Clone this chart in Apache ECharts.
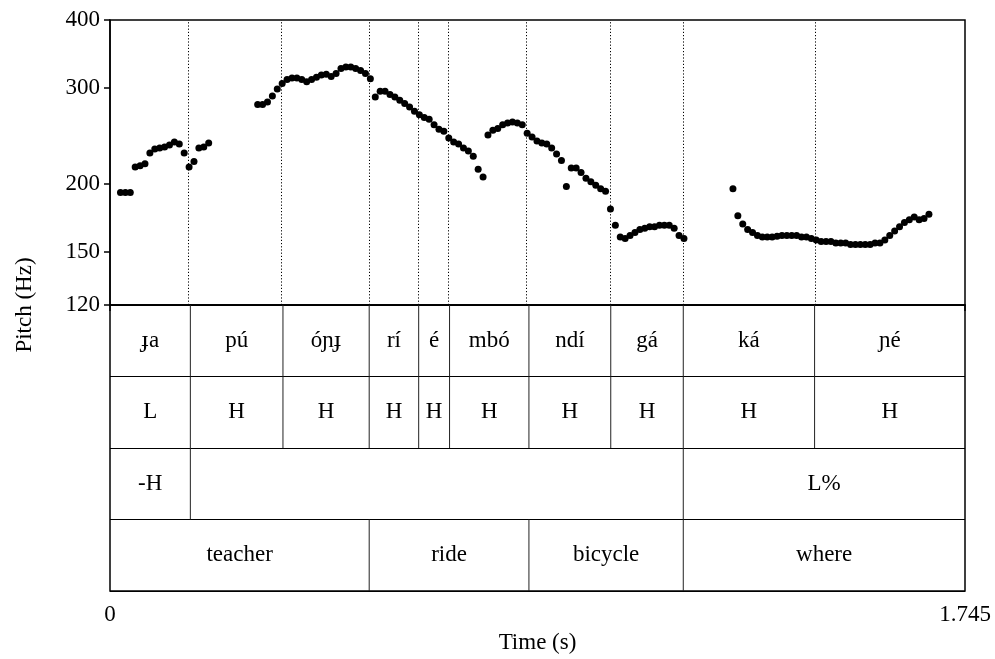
<!DOCTYPE html>
<html>
<head>
<meta charset="utf-8">
<script src="https://cdn.jsdelivr.net/npm/echarts@6/dist/echarts.min.js"></script>
<style>
  html, body { margin: 0; padding: 0; background: #fff; }
  #chart { width: 995px; height: 659px; }
</style>
</head>
<body>
<div id="chart"></div>
<script>
// Pitch track sampled on a fixed frame grid (time of first frame, frame step, seconds)
const pitchStartTime = 0.0214;
const pitchTimeStep = 0.01;
// F0 per frame in Hz; null marks unvoiced frames
const pitchHz = [
  193, 193, 193, 215, 216, 218, 228, 232, 233, 234, 236, 239, 237, 228, 215, 220, 233, 234, 238,
  null, null, null, null, null, null, null, null, null,
  280, 280, 283, 290, 299, 306, 311, 313, 313, 311, 308, 311, 314, 317, 318, 315, 319, 326, 328, 328, 326, 323, 319, 312,
  289, 296, 296, 292, 289, 285, 281, 277, 272, 268, 265, 263, 257, 252, 250, 243, 239, 237, 233, 230, 225, 213, 206,
  246, 251, 253, 257, 259, 260, 259, 257, 248, 244, 240, 238, 237, 233, 227, 221, 198, 214, 214, 210, 205, 202, 199, 196, 194,
  180, 168, 160, 159, 161, 163, 165, 166, 167, 167, 168, 168, 168, 166, 161, 159,
  null, null, null, null, null, null, null, null, null,
  196, 175, 169, 165, 163, 161, 160, 160, 160, 160.5, 161, 161, 161, 161, 160, 160, 159, 158, 157, 157, 157,
  156, 156, 156, 155, 155, 155, 155, 155, 156, 156, 158, 161, 164, 167, 170, 172, 174, 172, 173, 176
];

// Axis ticks
const pitchTicksHz = [120, 150, 200, 300, 400];
const timeRange = [0, 1.745];

// TextGrid tiers: interval boundaries (s) and labels
const syllableBounds = [0, 0.164, 0.353, 0.529, 0.630, 0.693, 0.855, 1.022, 1.170, 1.438, 1.745];
const syllables = ['ɟa', 'pú', 'óɲɟ', 'rí', 'é', 'mbó', 'ndí', 'gá', 'ká', 'ɲé'];
const tones = ['L', 'H', 'H', 'H', 'H', 'H', 'H', 'H', 'H', 'H'];
const phraseBounds = [0, 0.164, 1.170, 1.745];
const phraseTones = ['-H', '', 'L%'];
const wordBounds = [0, 0.529, 0.855, 1.170, 1.745];
const words = ['teacher', 'ride', 'bicycle', 'where'];

const SERIF = '"Liberation Serif", "DejaVu Serif", "Times New Roman", serif';

// Voiced frames as [time, Hz] points
const pitchPoints = [];
pitchHz.forEach((hz, i) => {
  if (hz !== null) pitchPoints.push([pitchStartTime + i * pitchTimeStep, hz]);
});

// Intervals of all four tiers: [start, end, tierIndex] plus the label text
const tierRows = [
  [syllableBounds, syllables],
  [syllableBounds, tones],
  [phraseBounds, phraseTones],
  [wordBounds, words]
];
const tierData = [];
const tierLabels = [];
tierRows.forEach(([bounds, labels], k) => {
  labels.forEach((lab, j) => {
    tierData.push([bounds[j], bounds[j + 1], k]);
    tierLabels.push(lab);
  });
});

const chart = echarts.init(document.getElementById('chart'), null, { renderer: 'canvas' });

chart.setOption({
  animation: false,
  backgroundColor: '#fff',
  textStyle: { fontFamily: SERIF },
  grid: [
    { left: 110, top: 20, width: 855, height: 285, show: true, borderColor: '#000', borderWidth: 1.5, containLabel: false },
    { left: 110, top: 305, width: 855, height: 286, show: true, borderColor: '#000', borderWidth: 1.5, containLabel: false }
  ],
  xAxis: [
    {
      type: 'value', gridIndex: 0, min: timeRange[0], max: timeRange[1],
      axisLine: { show: false }, axisTick: { show: false }, axisLabel: { show: false }, splitLine: { show: false }
    },
    {
      type: 'value', gridIndex: 1, min: timeRange[0], max: timeRange[1],
      name: 'Time (s)', nameLocation: 'middle', nameGap: 40,
      nameTextStyle: { fontFamily: SERIF, fontSize: 23, color: '#000' },
      axisLine: { show: true, lineStyle: { color: '#000', width: 1.5 } },
      axisTick: { show: true, customValues: timeRange, length: 6, lineStyle: { color: '#000', width: 1.5 } },
      axisLabel: {
        show: true, customValues: timeRange, margin: 12,
        fontFamily: SERIF, fontSize: 23, color: '#000',
        formatter: v => (v === 0 ? '0' : String(v))
      },
      splitLine: { show: false }
    }
  ],
  yAxis: [
    {
      type: 'log', gridIndex: 0, min: pitchTicksHz[0], max: pitchTicksHz[pitchTicksHz.length - 1],
      axisLine: { show: true, lineStyle: { color: '#000', width: 1.5 } },
      axisTick: { show: true, customValues: pitchTicksHz, length: 6, lineStyle: { color: '#000', width: 1.5 } },
      axisLabel: {
        show: true, customValues: pitchTicksHz, margin: 10,
        fontFamily: SERIF, fontSize: 23, color: '#000',
        formatter: v => String(Math.round(v))
      },
      splitLine: { show: false }
    },
    {
      type: 'value', gridIndex: 1, min: 0, max: 4, interval: 1, inverse: true,
      axisLine: { show: false }, axisTick: { show: false }, axisLabel: { show: false },
      splitLine: { show: true, lineStyle: { color: '#000', width: 1.2 } }
    }
  ],
  graphic: [
    {
      type: 'text', x: 25, y: 305, rotation: Math.PI / 2,
      style: { text: 'Pitch (Hz)', align: 'center', verticalAlign: 'middle', font: '23px ' + SERIF, fill: '#000' }
    }
  ],
  series: [
    {
      type: 'scatter', xAxisIndex: 0, yAxisIndex: 0,
      data: pitchPoints, symbol: 'circle', symbolSize: 7,
      itemStyle: { color: '#000', opacity: 1 }, silent: true,
      markLine: {
        silent: true, symbol: 'none', label: { show: false },
        lineStyle: { color: '#000', width: 1, type: [1.2, 2], opacity: 1 },
        data: syllableBounds.slice(1, -1).map(b => ({ xAxis: b }))
      }
    },
    {
      type: 'custom', xAxisIndex: 1, yAxisIndex: 1,
      dimensions: ['start', 'end', 'tier'],
      encode: { x: [0, 1], y: 2 },
      data: tierData, silent: true,
      renderItem: (params, api) => {
        const s = api.value(0), e = api.value(1), k = api.value(2);
        const a = api.coord([s, k]);
        const b = api.coord([e, k + 1]);
        const children = [];
        if (s > 0) {
          children.push({
            type: 'line',
            shape: { x1: a[0], y1: a[1], x2: a[0], y2: b[1] },
            style: { stroke: '#222', lineWidth: 1 }
          });
        }
        children.push({
          type: 'text',
          style: {
            text: tierLabels[params.dataIndex], x: (a[0] + b[0]) / 2, y: (a[1] + b[1]) / 2,
            align: 'center', verticalAlign: 'middle', font: '23px ' + SERIF, fill: '#000'
          }
        });
        return { type: 'group', children };
      }
    }
  ]
});
</script>
</body>
</html>
